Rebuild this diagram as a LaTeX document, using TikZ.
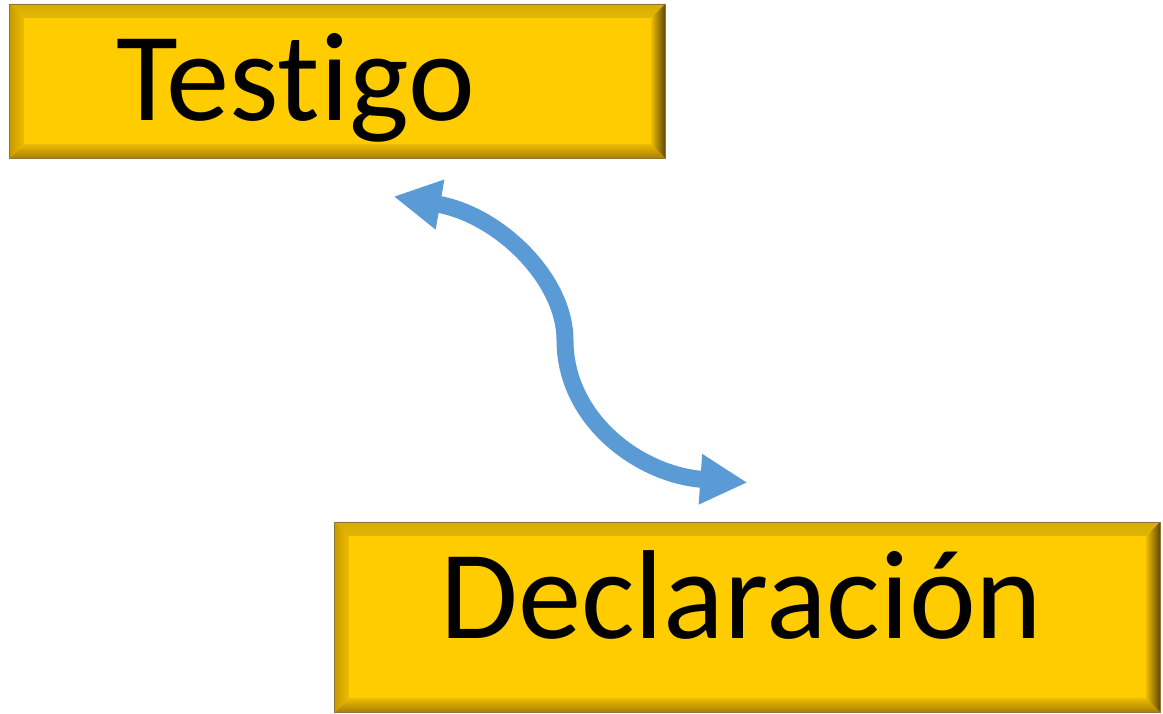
\documentclass[tikz,border=0pt]{standalone}
\usepackage{fontspec}
\setmainfont[Ligatures=NoCommon]{Carlito}
\usepackage{tikz}
\usetikzlibrary{arrows.meta}

\definecolor{plaquefill}{RGB}{255,204,0}
\definecolor{bevellight}{RGB}{255,236,50}
\definecolor{beveledge}{RGB}{215,172,0}
\definecolor{bevelleft}{RGB}{200,156,0}
\definecolor{bevelinner}{RGB}{238,188,0}
\definecolor{bevelright}{RGB}{95,74,10}
\definecolor{bevelbottom}{RGB}{168,128,0}
\definecolor{plaqueline}{RGB}{140,118,60}
\definecolor{linkblue}{RGB}{91,155,213}

\tikzset{
  plaque/.style={fill=plaquefill, draw=plaqueline, line width=0.6pt, inner sep=0pt,
    path picture={
      \shade[top color=beveledge, bottom color=bevellight, middle color=bevellight]
        (path picture bounding box.north west) -- (path picture bounding box.north east)
        -- ([shift={(-14,14)}]path picture bounding box.north east) -- ([shift={(14,14)}]path picture bounding box.north west) -- cycle;
      \shade[top color=bevelinner, bottom color=bevelbottom]
        (path picture bounding box.south west) -- (path picture bounding box.south east)
        -- ([shift={(-14,-14)}]path picture bounding box.south east) -- ([shift={(14,-14)}]path picture bounding box.south west) -- cycle;
      \shade[left color=bevelleft, right color=bevelinner]
        (path picture bounding box.north west) -- (path picture bounding box.south west)
        -- ([shift={(14,-14)}]path picture bounding box.south west) -- ([shift={(14,14)}]path picture bounding box.north west) -- cycle;
      \shade[left color=bevelinner, right color=bevelright]
        (path picture bounding box.north east) -- (path picture bounding box.south east)
        -- ([shift={(-14,-14)}]path picture bounding box.south east) -- ([shift={(-14,14)}]path picture bounding box.north east) -- cycle;
    }},
  word/.style={anchor=base, inner sep=0pt, font=\fontsize{90}{100}\selectfont},
  link/.style={linkblue, line width=0.425cm,
    {Triangle[length=1.18cm, width=1.18cm]}-{Triangle[length=1.18cm, width=1.18cm]}}
}

\begin{document}
\begin{tikzpicture}[x=0.025cm, y=-0.025cm]
  \useasboundingbox (0,0) rectangle (1163,713);

  % boxes
  \node[plaque, minimum width=16.375cm, minimum height=3.85cm] (testigo) at (337.5,81) {};
  \node[plaque, minimum width=20.625cm, minimum height=4.75cm] (declaracion) at (747.5,617) {};

  \node[word] (testigo text) at ([shift={(-42,39)}]testigo.center) {Testigo};
  \node[word] (declaracion text) at ([shift={(-6,21)}]declaracion.center) {Declaración};

  % link
  \draw[link] ([shift={(56,38)}]testigo.south) .. controls (500,215) and (565,280) .. (565,340)
    .. controls (565,420) and (640,475) .. ([shift={(0,-39)}]declaracion.north);
\end{tikzpicture}
\end{document}
